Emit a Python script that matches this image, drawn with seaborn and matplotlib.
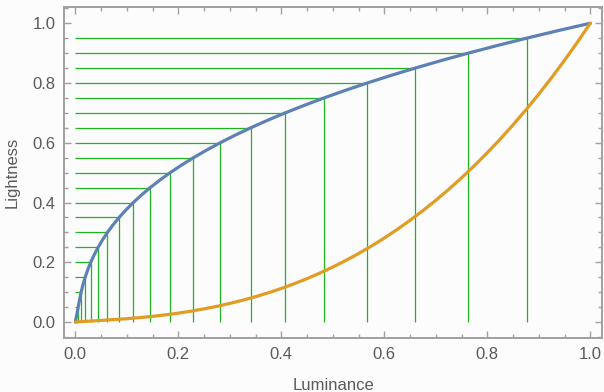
import matplotlib
matplotlib.use("Agg")
import matplotlib.pyplot as plt
from matplotlib.ticker import MultipleLocator
import seaborn as sns
import pandas as pd

# Lightness samples and the corresponding relative luminance values
lightness = [0.0, 0.025, 0.05, 0.075, 0.1, 0.125, 0.15, 0.175, 0.2, 0.225,
             0.25, 0.275, 0.3, 0.325, 0.35, 0.375, 0.4, 0.425, 0.45, 0.475,
             0.5, 0.525, 0.55, 0.575, 0.6, 0.625, 0.65, 0.675, 0.7, 0.725,
             0.75, 0.775, 0.8, 0.825, 0.85, 0.875, 0.9, 0.925, 0.95, 0.975, 1.0]
luminance = [0.0, 0.00277, 0.00554, 0.00830, 0.011260, 0.014831, 0.019086,
             0.024086, 0.029891, 0.036560, 0.044155, 0.052734, 0.062359,
             0.073088, 0.084984, 0.098104, 0.112510, 0.128262, 0.145420,
             0.164043, 0.184187, 0.205920, 0.229298, 0.254380, 0.281233,
             0.309910, 0.340469, 0.372980, 0.407494, 0.444080, 0.482781,
             0.523672, 0.566810, 0.612257, 0.660065, 0.710296, 0.763048,
             0.818283, 0.876190, 0.936724, 1.0]

# Guide levels: every 0.05 in lightness, with their luminance
guide_lightness = [0.05, 0.10, 0.15, 0.20, 0.25, 0.30, 0.35, 0.40, 0.45, 0.50,
                   0.55, 0.60, 0.65, 0.70, 0.75, 0.80, 0.85, 0.90, 0.95]
guide_luminance = [0.00554, 0.011260, 0.019086, 0.029891, 0.044155, 0.062359,
                   0.084984, 0.112510, 0.145420, 0.184187, 0.229298, 0.281233,
                   0.340469, 0.407494, 0.482781, 0.566810, 0.660065, 0.763048,
                   0.876190]

BLUE = "#5E81B5"
ORANGE = "#E19C24"
GREEN = "#1FB51F"
FRAME = "#A0A0A0"
TEXT = "#5A5A5A"

sns.set_style("white")
plt.rcParams["font.family"] = ["Liberation Sans", "DejaVu Sans"]

fig = plt.figure(figsize=(6.04, 3.92), dpi=100, facecolor="#FCFCFC")
ax = fig.add_axes([0.106, 0.1365, 0.8907, 0.8469])
ax.set_facecolor("#FCFCFC")

# Guide lines: horizontal from the axis to the curve, vertical down to zero
ax.hlines(guide_lightness, 0, guide_luminance, color=GREEN, lw=0.9, zorder=1)
ax.vlines(guide_luminance, 0, guide_lightness, color=GREEN, lw=0.9, zorder=1)

curve = pd.DataFrame({"luminance": luminance, "lightness": lightness})
sns.lineplot(data=curve, x="luminance", y="lightness", color=BLUE, lw=2.3,
             sort=False, ax=ax, zorder=3)
sns.lineplot(data=curve, x="lightness", y="luminance", color=ORANGE, lw=2.3,
             sort=False, ax=ax, zorder=3)

ax.set_xlim(-0.022, 1.0227)
ax.set_ylim(-0.055, 1.056)

ax.xaxis.set_major_locator(MultipleLocator(0.2))
ax.xaxis.set_minor_locator(MultipleLocator(0.05))
ax.yaxis.set_major_locator(MultipleLocator(0.2))
ax.yaxis.set_minor_locator(MultipleLocator(0.05))
ax.xaxis.set_major_formatter(lambda v, p: f"{v:.1f}")
ax.yaxis.set_major_formatter(lambda v, p: f"{v:.1f}")

ax.tick_params(which="both", direction="in", top=True, right=True,
               bottom=True, left=True, color=FRAME, width=1.0,
               labelcolor=TEXT, labelsize=12)
ax.tick_params(which="major", length=5, pad=6)
ax.tick_params(which="minor", length=3)

for s in ax.spines.values():
    s.set_visible(True)
    s.set_color(FRAME)
    s.set_linewidth(1.4)

ax.set_xlabel("Luminance", color=TEXT, fontsize=12, labelpad=12)
ax.set_ylabel("Lightness", color=TEXT, fontsize=12, labelpad=9)

fig.savefig("out.png", dpi=100, facecolor=fig.get_facecolor())
